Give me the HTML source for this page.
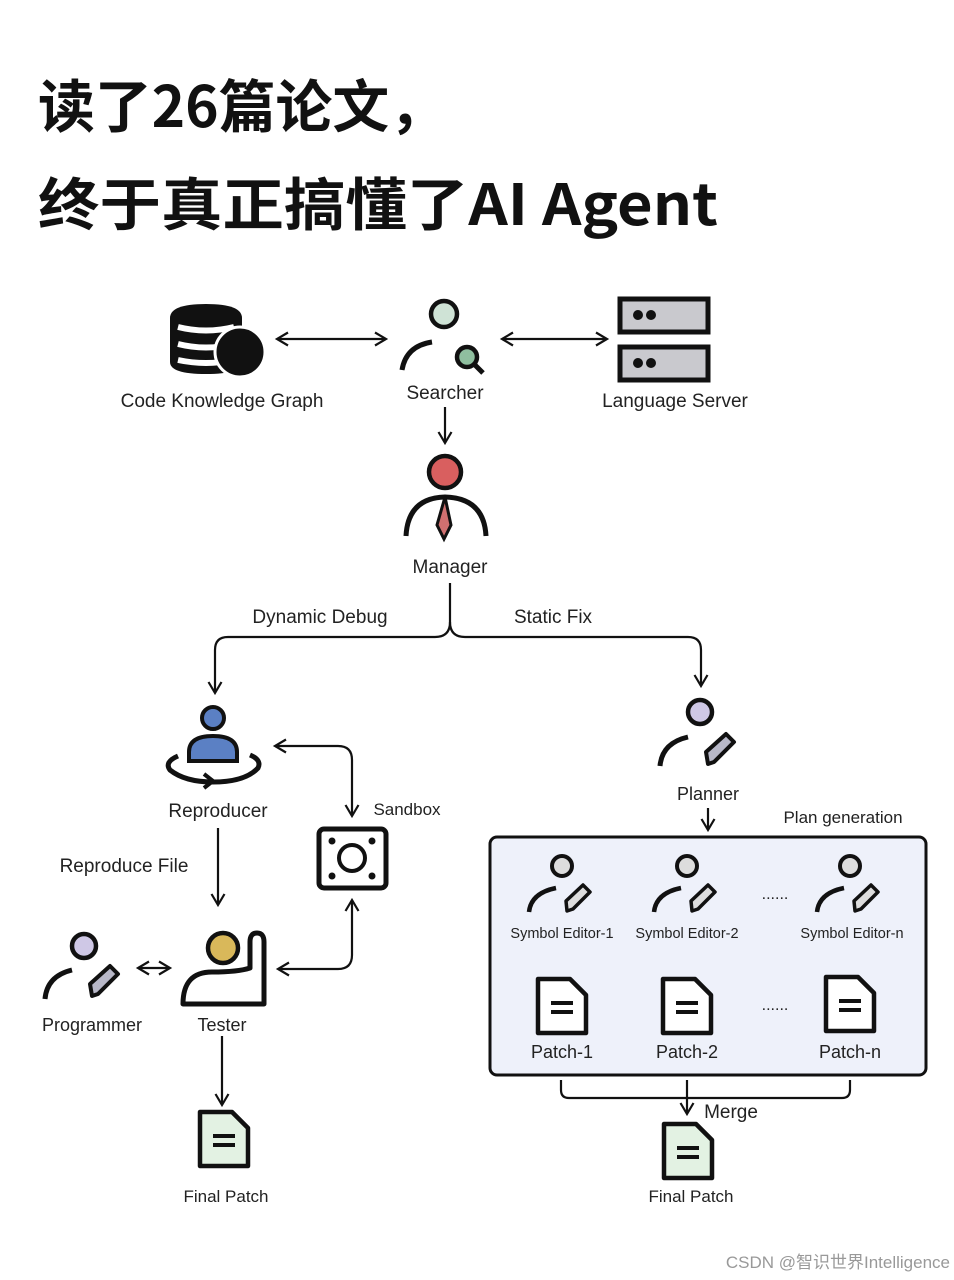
<!DOCTYPE html>
<html><head><meta charset="utf-8"><style>
html,body{margin:0;padding:0;background:#fff;}
svg{display:block}
text{font-family:"Liberation Sans","DejaVu Sans",sans-serif;fill:#222}
.t{font-family:"Noto Sans CJK SC","Liberation Sans",sans-serif;font-weight:700;fill:#111}
</style></head><body>
<svg width="954" height="1280" viewBox="0 0 954 1280" xmlns="http://www.w3.org/2000/svg">
<defs>
<marker id="a" markerWidth="16" markerHeight="16" refX="13" refY="8" orient="auto-start-reverse" markerUnits="userSpaceOnUse">
<path d="M2,1.5 L13,8 L2,14.5" fill="none" stroke="#111" stroke-width="2.2"/></marker>
<g id="doc"><path d="M0,0 H32 L48,16 V54 H0 Z" stroke="#111" stroke-width="4.5" stroke-linejoin="round"/><path d="M13,24 H35 M13,33 H35" stroke="#111" stroke-width="4"/></g>
</defs>

<text class="t" x="38" y="127" font-size="57" textLength="408" lengthAdjust="spacingAndGlyphs">读了26篇论文，</text>
<text class="t" x="38" y="225" font-size="57" textLength="680" lengthAdjust="spacingAndGlyphs">终于真正搞懂了AI Agent</text>

<g fill="none" stroke="#111" stroke-width="2.2">
<line x1="277" y1="339" x2="386" y2="339" marker-start="url(#a)" marker-end="url(#a)"/>
<line x1="502" y1="339" x2="607" y2="339" marker-start="url(#a)" marker-end="url(#a)"/>
<line x1="445" y1="407" x2="445" y2="443" marker-end="url(#a)"/>
<path d="M450,583 V622 Q450,637 435,637 H228 Q215,637 215,650 V693" marker-end="url(#a)"/>
<path d="M450,622 Q450,637 465,637 H688 Q701,637 701,650 V686" marker-end="url(#a)"/>
<line x1="218" y1="828" x2="218" y2="905" marker-end="url(#a)"/>
<path d="M275,746 H338 Q352,746 352,760 V816" marker-start="url(#a)" marker-end="url(#a)"/>
<path d="M352,900 V955 Q352,969 338,969 H278" marker-start="url(#a)" marker-end="url(#a)"/>
<line x1="138" y1="968" x2="170" y2="968" marker-start="url(#a)" marker-end="url(#a)"/>
<line x1="222" y1="1036" x2="222" y2="1105" marker-end="url(#a)"/>
<line x1="708" y1="808" x2="708" y2="830" marker-end="url(#a)"/>
<line x1="562" y1="946" x2="562" y2="968" marker-end="url(#a)"/>
<line x1="687" y1="946" x2="687" y2="968" marker-end="url(#a)"/>
<line x1="850" y1="946" x2="850" y2="968" marker-end="url(#a)"/>
<path d="M561,1080 V1090 Q561,1098 569,1098 H842 Q850,1098 850,1090 V1080"/>
<line x1="687" y1="1080" x2="687" y2="1114" marker-end="url(#a)"/>
</g>

<!-- database -->
<path d="M170,318 Q170,304 206,304 Q242,304 242,318 V362 Q242,374 206,374 Q170,374 170,362 Z" fill="#111"/>
<path d="M178,327 Q206,334 234,327 M178,344 Q206,351 234,344 M178,360 Q206,366 234,360" fill="none" stroke="#fff" stroke-width="6"/>
<circle cx="240" cy="352" r="25" fill="#111" stroke="#fff" stroke-width="3"/>
<!-- searcher -->
<circle cx="444" cy="314" r="13" fill="#cfe3d6" stroke="#111" stroke-width="4.5"/>
<path d="M402,370 Q406,346 432,342" fill="none" stroke="#111" stroke-width="5"/>
<circle cx="467" cy="357" r="10" fill="#8fbf9f" stroke="#111" stroke-width="4.5"/>
<line x1="474" y1="364" x2="483" y2="373" stroke="#111" stroke-width="5"/>
<!-- server -->
<rect x="620" y="299" width="88" height="33" fill="#c9c9ce" stroke="#111" stroke-width="5"/>
<rect x="620" y="347" width="88" height="33" fill="#c9c9ce" stroke="#111" stroke-width="5"/>
<circle cx="638" cy="315" r="5" fill="#111"/><circle cx="651" cy="315" r="5" fill="#111"/>
<circle cx="638" cy="363" r="5" fill="#111"/><circle cx="651" cy="363" r="5" fill="#111"/>
<!-- manager -->
<circle cx="445" cy="472" r="16" fill="#d95f5f" stroke="#111" stroke-width="4.5"/>
<path d="M406,536 Q408,498 445,497 Q484,498 486,536" fill="none" stroke="#111" stroke-width="5"/>
<path d="M445,497 L451,525 L444,539 L437,525 Z" fill="#d07070" stroke="#111" stroke-width="3"/>

<text x="222" y="407" font-size="19" text-anchor="middle">Code Knowledge Graph</text>
<text x="445" y="399" font-size="19" text-anchor="middle">Searcher</text>
<text x="675" y="407" font-size="19" text-anchor="middle">Language Server</text>
<text x="450" y="573" font-size="19" text-anchor="middle">Manager</text>
<text x="320" y="623" font-size="19" text-anchor="middle">Dynamic Debug</text>
<text x="553" y="623" font-size="19" text-anchor="middle">Static Fix</text>

<!-- reproducer -->
<circle cx="213" cy="718" r="11" fill="#5b80c4" stroke="#111" stroke-width="4"/>
<path d="M189,761 V752 Q189,736 213,736 Q237,736 237,752 V761 Z" fill="#5b80c4" stroke="#111" stroke-width="4"/>
<path d="M178,756 Q164,762 170,770 Q185,782 213,782 Q245,782 258,768 Q262,760 250,755" fill="none" stroke="#111" stroke-width="5"/>
<path d="M204,774 L213,781 L204,788" fill="none" stroke="#111" stroke-width="4"/>
<text x="218" y="817" font-size="19" text-anchor="middle">Reproducer</text>
<text x="124" y="872" font-size="19" text-anchor="middle">Reproduce File</text>
<text x="407" y="815" font-size="17" text-anchor="middle">Sandbox</text>
<rect x="319" y="829" width="67" height="59" rx="5" fill="#fff" stroke="#111" stroke-width="5"/>
<circle cx="352" cy="858" r="13" fill="none" stroke="#111" stroke-width="4"/>
<circle cx="332" cy="841" r="3.5" fill="#111"/><circle cx="372" cy="841" r="3.5" fill="#111"/>
<circle cx="332" cy="876" r="3.5" fill="#111"/><circle cx="372" cy="876" r="3.5" fill="#111"/>
<!-- programmer -->
<circle cx="84" cy="946" r="12" fill="#cfc8e6" stroke="#111" stroke-width="4.5"/>
<path d="M45,999 Q47,976 72,970" fill="none" stroke="#111" stroke-width="5"/>
<g transform="translate(92,996)"><path d="M0,0 L-2,-12 L18,-30 L26,-22 L6,-2 Z" fill="#b8b8c8" stroke="#111" stroke-width="4" stroke-linejoin="round"/></g>
<!-- tester -->
<circle cx="223" cy="948" r="15" fill="#d9b85a" stroke="#111" stroke-width="4.5"/>
<path d="M183,1004 Q183,972 212,972 Q238,972 250,968 V942 Q250,933 257,933 Q264,933 264,942 V1004 Z" fill="none" stroke="#111" stroke-width="5" stroke-linejoin="round"/>
<text x="92" y="1031" font-size="18" text-anchor="middle">Programmer</text>
<text x="222" y="1031" font-size="18" text-anchor="middle">Tester</text>
<use href="#doc" x="200" y="1112" fill="#e3f2e3"/>
<text x="226" y="1202" font-size="17" text-anchor="middle">Final Patch</text>

<!-- planner -->
<circle cx="700" cy="712" r="12" fill="#cfc8e6" stroke="#111" stroke-width="4.5"/>
<path d="M660,766 Q662,743 688,737" fill="none" stroke="#111" stroke-width="5"/>
<g transform="translate(708,764)"><path d="M0,0 L-2,-12 L18,-30 L26,-22 L6,-2 Z" fill="#b8b8c8" stroke="#111" stroke-width="4" stroke-linejoin="round"/></g>
<text x="708" y="800" font-size="18" text-anchor="middle">Planner</text>
<text x="843" y="823" font-size="17" text-anchor="middle">Plan generation</text>

<rect x="490" y="837" width="436" height="238" rx="7" fill="#eef1fa" stroke="#111" stroke-width="3"/>
<g stroke="#111">
<circle cx="562" cy="866" r="10" fill="#ddd" stroke-width="4"/>
<path d="M529,912 Q531,893 556,888" fill="none" stroke-width="4.5"/>
<g transform="translate(567,911)"><path d="M0,0 L-1,-10 L16,-26 L23,-19 L6,-2 Z" fill="#ddd" stroke-width="3.5" stroke-linejoin="round"/></g>
<circle cx="687" cy="866" r="10" fill="#ddd" stroke-width="4"/>
<path d="M654,912 Q656,893 681,888" fill="none" stroke-width="4.5"/>
<g transform="translate(692,911)"><path d="M0,0 L-1,-10 L16,-26 L23,-19 L6,-2 Z" fill="#ddd" stroke-width="3.5" stroke-linejoin="round"/></g>
<circle cx="850" cy="866" r="10" fill="#ddd" stroke-width="4"/>
<path d="M817,912 Q819,893 844,888" fill="none" stroke-width="4.5"/>
<g transform="translate(855,911)"><path d="M0,0 L-1,-10 L16,-26 L23,-19 L6,-2 Z" fill="#ddd" stroke-width="3.5" stroke-linejoin="round"/></g>
</g>
<text x="775" y="899" font-size="16" text-anchor="middle">......</text>
<text x="562" y="938" font-size="14.5" text-anchor="middle">Symbol Editor-1</text>
<text x="687" y="938" font-size="14.5" text-anchor="middle">Symbol Editor-2</text>
<text x="852" y="938" font-size="14.5" text-anchor="middle">Symbol Editor-n</text>
<use href="#doc" x="538" y="979" fill="#fff"/>
<use href="#doc" x="663" y="979" fill="#fff"/>
<use href="#doc" x="826" y="977" fill="#fff"/>
<text x="775" y="1010" font-size="16" text-anchor="middle">......</text>
<text x="562" y="1058" font-size="18" text-anchor="middle">Patch-1</text>
<text x="687" y="1058" font-size="18" text-anchor="middle">Patch-2</text>
<text x="850" y="1058" font-size="18" text-anchor="middle">Patch-n</text>

<text x="731" y="1118" font-size="19" text-anchor="middle">Merge</text>
<use href="#doc" x="664" y="1124" fill="#e3f2e3"/>
<text x="691" y="1202" font-size="17" text-anchor="middle">Final Patch</text>

<text x="950" y="1268" font-size="17" text-anchor="end" style="fill:#999;font-family:'Liberation Sans','Noto Sans CJK SC',sans-serif">CSDN @智识世界Intelligence</text>
</svg>
</body></html>
